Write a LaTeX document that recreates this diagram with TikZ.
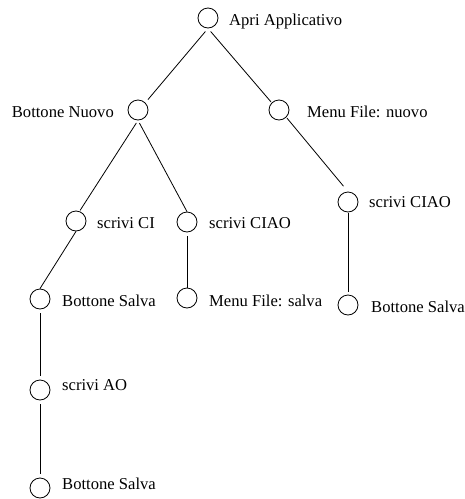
\documentclass[tikz,border=0pt]{standalone}
\usepackage{fontspec}
\setmainfont{Liberation Serif}
\begin{document}
\begin{tikzpicture}[x=1pt,y=1pt,
  st/.style={draw,circle,minimum size=20pt,inner sep=0pt,line width=0.8pt},
  lbl/.style={inner sep=0pt,font=\fontsize{16.6}{20}\selectfont},
  lbw/.style={lbl,anchor=base west},
  lbe/.style={lbl,anchor=base east},
  edge/.style={line width=0.8pt,shorten <=4pt,shorten >=4pt}]
\useasboundingbox (0,0) rectangle (465,-499);
% states
\node[st] (root) at (208,-18) {};
\node[st] (bn) at (138,-110) {};
\node[st] (mn) at (279,-110) {};
\node[st] (sci) at (76,-221) {};
\node[st] (scm) at (187,-222) {};
\node[st] (scr) at (348,-202) {};
\node[st] (bsl) at (40,-299) {};
\node[st] (mfs) at (187,-298) {};
\node[st] (bsr) at (348,-305) {};
\node[st] (sao) at (40,-390) {};
\node[st] (bsb) at (40,-488) {};
% labels
\node[lbw] (t1) at (229,-25) {Apri Applicativo};
\node[lbe] (t2) at (114,-117) {Bottone Nuovo};
\node[lbw] (t3) at (307,-117) {Menu File: nuovo};
\node[lbw] (t4) at (97,-228) {scrivi CI};
\node[lbw] (t5) at (209,-228) {scrivi CIAO};
\node[lbw] (t6) at (369,-207) {scrivi CIAO};
\node[lbw] (t7) at (62,-306) {Bottone Salva};
\node[lbw] (t8) at (209,-306) {Menu File: salva};
\node[lbw] (t9) at (371,-312) {Bottone Salva};
\node[lbw] (t10) at (62,-390) {scrivi AO};
\node[lbw] (t11) at (62,-489) {Bottone Salva};
% edges
\draw[edge] (root.south) -- (bn.north east);
\draw[edge,shorten >=1pt] (root.south) -- (mn.north west);
\draw[edge,shorten <=3pt,shorten >=1pt] (bn.south) -- (sci.70);
\draw[edge,shorten <=3pt,shorten >=0pt] (bn.south) -- (scm.north);
\draw[edge,shorten <=1pt,shorten >=7pt] (mn.south east) -- (scr.north);
\draw[edge,shorten <=0pt,shorten >=0pt] (sci.south) -- (bsl.north);
\draw[edge,shorten <=4pt,shorten >=0pt] (scm.south) -- (mfs.north);
\draw[edge,shorten <=1pt,shorten >=3pt] (scr.south) -- (bsr.north);
\draw[edge] (bsl.south) -- (sao.north);
\draw[edge] (sao.south) -- (bsb.north);
\end{tikzpicture}
\end{document}
